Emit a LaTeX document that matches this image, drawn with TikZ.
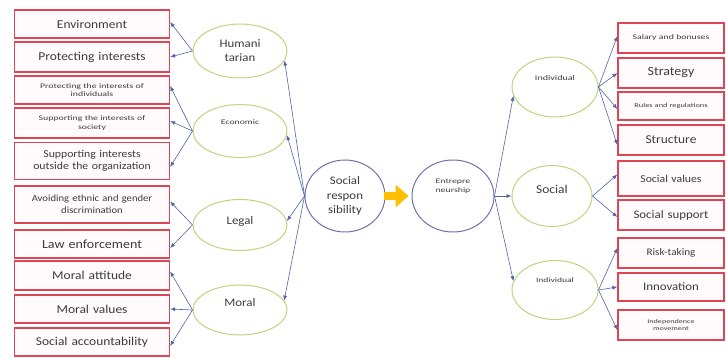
\documentclass[tikz,border=0pt]{standalone}
\usepackage{fontspec}
\setmainfont[FakeStretch=1.12]{Carlito}
\newfontfamily\widefont[FakeStretch=1.4]{Carlito}
\usetikzlibrary{arrows.meta,shapes.geometric}
\definecolor{boxred}{RGB}{222,70,85}
\definecolor{boxfill}{RGB}{255,250,251}
\definecolor{ellgreen}{RGB}{190,212,125}
\definecolor{circblue}{RGB}{105,115,170}
\definecolor{linkblue}{RGB}{80,100,170}
\definecolor{txt}{RGB}{60,60,60}
\definecolor{arrowyellow}{RGB}{255,190,0}
\tikzset{
  lbox/.style={draw=boxred, line width=1.3pt, fill=boxfill, minimum width=155pt, inner sep=1pt, align=center, text=txt, text width=150pt},
  rbox/.style={draw=boxred, line width=1.3pt, fill=boxfill, minimum width=106pt, inner sep=1pt, align=center, text=txt, text width=100pt},
  gell/.style={draw=ellgreen, line width=1pt, ellipse, minimum width=#1, inner sep=0pt, align=center, text=txt},
  bcirc/.style={draw=circblue, line width=1pt, ellipse, minimum width=80pt, minimum height=72pt, inner sep=0pt, align=center, text=txt},
  link/.style={draw=linkblue, line width=0.6pt, -{Latex[length=5pt,width=4pt]}},
  fs/.style={font=\fontsize{#1}{#1}\selectfont},
  ws/.style={font=\widefont\fontsize{#1}{#1}\selectfont},
}
\begin{document}
\begin{tikzpicture}[x=1pt,y=-1pt]
\useasboundingbox (0,0) rectangle (726,358);
% left boxes
\node[lbox, fs=12, minimum height=28pt] (b1) at (92,24) {Environment};
\node[lbox, fs=12, minimum height=30pt] (b2) at (92,57) {Protecting interests};
\node[lbox, font=\widefont\fontsize{7}{8.5}\selectfont, minimum height=28pt] (b3) at (92,90) {Protecting the interests of\\individuals};
\node[lbox, font=\widefont\fontsize{7}{8.5}\selectfont, minimum height=30pt] (b4) at (92,123) {Supporting the interests of\\society};
\node[lbox, font=\fontsize{10.5}{11.5}\selectfont, minimum height=37pt] (b5) at (92,161) {Supporting interests\\outside the organization};
\node[lbox, font=\fontsize{9.5}{12}\selectfont, minimum height=37pt] (b6) at (92,204.5) {Avoiding ethnic and gender\\discrimination};
\node[lbox, fs=12.5, minimum height=28pt] (b7) at (92,244) {Law enforcement};
\node[lbox, fs=12, minimum height=29pt] (b8) at (92,275.5) {Moral attitude};
\node[lbox, fs=12, minimum height=28pt] (b9) at (92,309) {Moral values};
\node[lbox, fs=12, minimum height=28pt] (b10) at (92,342) {Social accountability};
% left ellipses
\node[gell=94pt, minimum height=54pt, font=\fontsize{11.5}{14}\selectfont] (hum) at (240,51) {Humani\\tarian};
\node[gell=94pt, minimum height=53pt, ws=7, text depth=18pt] (eco) at (240,131) {Economic};
\node[gell=94pt, minimum height=51pt, fs=11.5, text depth=8pt] (leg) at (240,225) {Legal};
\node[gell=94pt, minimum height=50pt, fs=11.5, text depth=14pt] (mor) at (240,310) {Moral};
% centre
\node[bcirc, font=\fontsize{11.5}{14.5}\selectfont] (sr) at (345,196) {Social\\respon\\sibility};
\node[bcirc, minimum width=82pt, font=\widefont\fontsize{7}{9}\selectfont, text depth=20pt] (en) at (453,196) {Entrepre\\neurship};
% right ellipses
\node[gell=86pt, minimum height=60pt, ws=7.2, text depth=17pt] (ind1) at (555,87) {Individual};
\node[gell=80pt, minimum height=61pt, fs=12, text depth=14pt] (soc) at (552,196) {Social};
\node[gell=86pt, minimum height=59pt, ws=6.8, text depth=20pt] (ind2) at (555,290) {Individual};
% right boxes
\node[rbox, ws=7, minimum height=30pt] (r1) at (671,38) {Salary and bonuses};
\node[rbox, fs=12.5, minimum height=30pt] (r2) at (671,73) {Strategy};
\node[rbox, ws=6, minimum height=28pt] (r3) at (671,106) {Rules and regulations};
\node[rbox, fs=12, minimum height=30pt] (r4) at (671,140) {Structure};
\node[rbox, fs=10.5, minimum height=35pt] (r5) at (671,178.5) {Social values};
\node[rbox, fs=11.5, minimum height=30pt] (r6) at (671,215) {Social support};
\node[rbox, fs=10, minimum height=30pt] (r7) at (671,253) {Risk-taking};
\node[rbox, fs=11.5, minimum height=28pt] (r8) at (671,287) {Innovation};
\node[rbox, font=\widefont\fontsize{5.8}{7}\selectfont, minimum height=30pt] (r9) at (671,325) {Independence\\movement};
% centre arrows
\draw[link] (sr.west) -- (hum.-12);
\draw[link] (sr.west) -- (eco.-5);
\draw[link] (sr.west) -- (leg.5);
\draw[link] (sr.west) -- (mor.12);
\draw[draw=arrowyellow, line width=8pt, -{Triangle[length=13pt,width=22pt]}, shorten <=-2pt, shorten >=3pt] (sr.east) -- (en.west);
\draw[link] (en.east) -- (ind1.192);
\draw[link] (en.east) -- (soc.west);
\draw[link] (en.east) -- (ind2.168);
% left fan
\draw[link] (hum.west) -- ([yshift=2pt]b1.east);
\draw[link] (hum.west) -- (b2.east);
\draw[link] (eco.west) -- ([yshift=4pt]b3.east);
\draw[link] (eco.west) -- ([yshift=2pt]b4.east);
\draw[link] (eco.west) -- ([yshift=-6pt]b5.east);
\draw[link] (leg.west) -- ([yshift=3pt]b6.east);
\draw[link] (leg.west) -- ([yshift=-4pt]b7.east);
\draw[link] (mor.west) -- ([yshift=4pt]b8.east);
\draw[link] (mor.west) -- (b9.east);
\draw[link] (mor.west) -- ([yshift=-4pt]b10.east);
% right fan
\draw[link] (ind1.east) -- ([yshift=2pt]r1.west);
\draw[link] (ind1.east) -- (r2.west);
\draw[link] (ind1.east) -- ([yshift=-3pt]r3.west);
\draw[link] (ind1.east) -- ([yshift=-5pt]r4.west);
\draw[link] (soc.east) -- ([yshift=4pt]r5.west);
\draw[link] (soc.east) -- ([yshift=-2pt]r6.west);
\draw[link] (ind2.east) -- ([yshift=5pt]r7.west);
\draw[link] (ind2.east) -- (r8.west);
\draw[link] (ind2.east) -- ([yshift=-5pt]r9.west);
\end{tikzpicture}
\end{document}
